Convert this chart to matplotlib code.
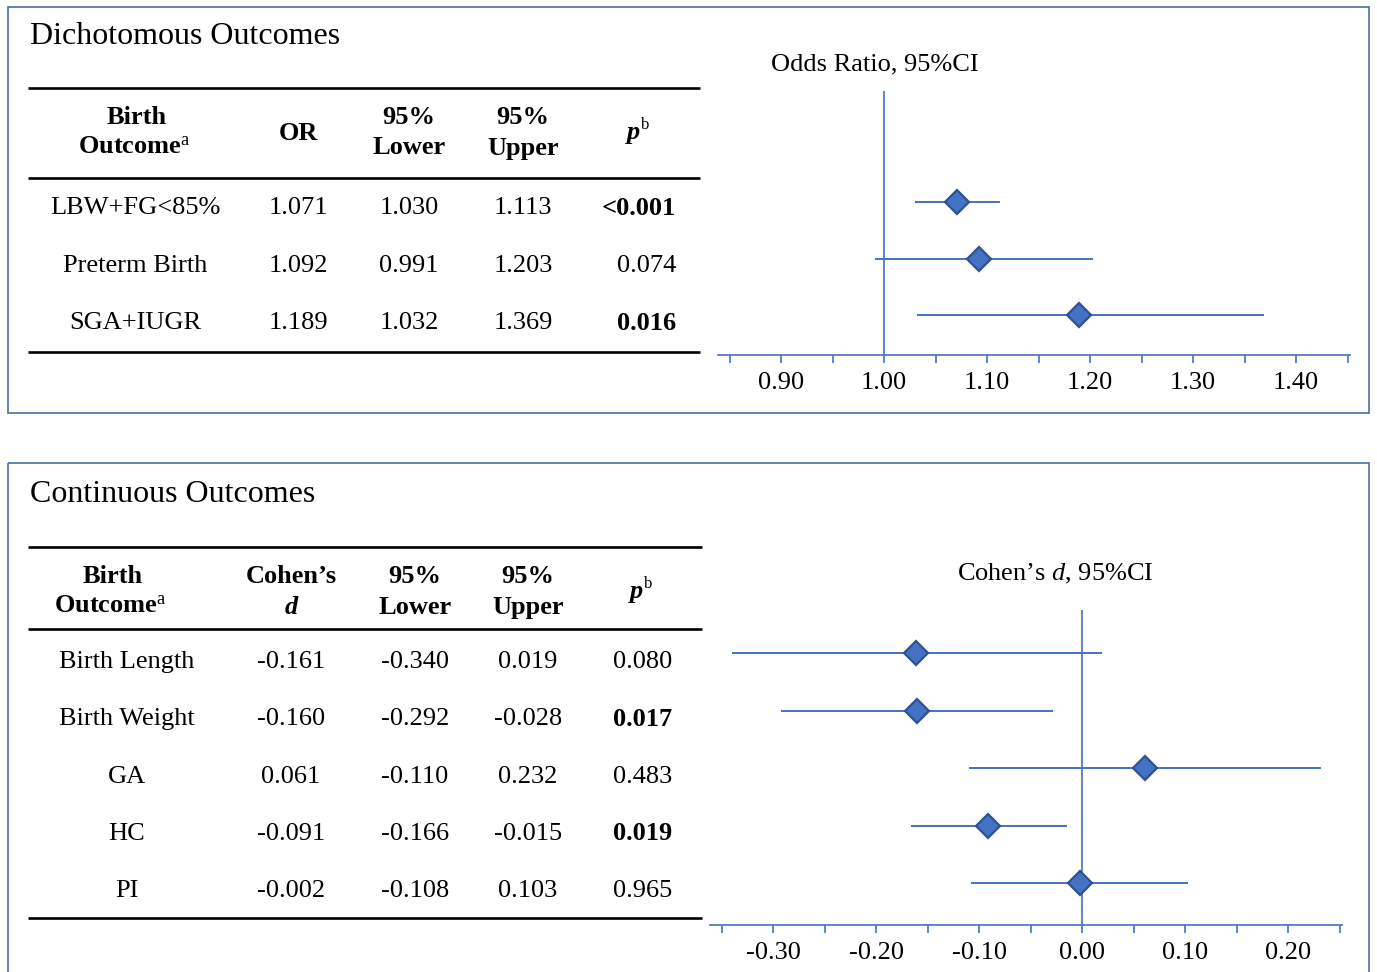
import matplotlib
matplotlib.use("Agg")
import matplotlib.pyplot as plt
from matplotlib.patches import Rectangle
from matplotlib.ticker import MultipleLocator

plt.rcParams['font.family'] = ['Liberation Serif', 'DejaVu Serif']
plt.rcParams['mathtext.fontset'] = 'custom'
plt.rcParams['mathtext.rm'] = 'Liberation Serif'
plt.rcParams['mathtext.it'] = 'Liberation Serif:italic'
plt.rcParams['mathtext.bf'] = 'Liberation Serif:bold'

# ---- data ----
dich_outcomes = ["LBW+FG<85%", "Preterm Birth", "SGA+IUGR"]
dich_or = [1.071, 1.092, 1.189]
dich_lo = [1.030, 0.991, 1.032]
dich_hi = [1.113, 1.203, 1.369]
dich_p = ["<0.001", "0.074", "0.016"]
dich_sig = [True, False, True]

cont_outcomes = ["Birth Length", "Birth Weight", "GA", "HC", "PI"]
cont_d = [-0.161, -0.160, 0.061, -0.091, -0.002]
cont_lo = [-0.340, -0.292, -0.110, -0.166, -0.108]
cont_hi = [0.019, -0.028, 0.232, -0.015, 0.103]
cont_p = ["0.080", "0.017", "0.483", "0.019", "0.965"]
cont_sig = [False, True, False, True, False]

or_ticks = [0.90, 1.00, 1.10, 1.20, 1.30, 1.40]
d_ticks = [-0.30, -0.20, -0.10, 0.00, 0.10, 0.20]

W, H = 1377, 972
BLUE = '#4472C4'
EDGE = '#2F528F'
FRAME = '#4A6DA8'
FS = 19

fig = plt.figure(figsize=(W / 100, H / 100), dpi=100)
bg = fig.add_axes([0, 0, 1, 1])
bg.set_xlim(0, W)
bg.set_ylim(H, 0)
bg.axis('off')

# panel frames
bg.add_patch(Rectangle((8, 7), 1361, 406, fill=False, ec=FRAME, lw=1.2))
bg.add_patch(Rectangle((8, 463), 1361, 530, fill=False, ec=FRAME, lw=1.2, clip_on=False))

bg.text(30, 37, "Dichotomous Outcomes", fontsize=23, va='center', ha='left')
bg.text(30, 494, "Continuous Outcomes", fontsize=23, va='center', ha='left')


def draw_table(y_rules, x0, x1, heads, cols, p_right, rows_y0, step, names, vals, pvals, sig):
    for y in y_rules:
        bg.plot([x0, x1], [y, y], color='black', lw=1.9, solid_capstyle='butt')
    hy1, hy2 = heads['y']
    bx = heads['x'][0]
    bg.text(bx, hy1, "Birth", fontsize=FS, fontweight='bold', ha='center', va='center')
    bg.text(bx - 3, hy2, r"$\mathbf{Outcome}^{\mathrm{a}}$", fontsize=FS, ha='center', va='center')
    mid = (hy1 + hy2) / 2
    if heads['second'] == 'OR':
        bg.text(heads['x'][1], mid, "OR", fontsize=FS, fontweight='bold', ha='center', va='center')
    else:
        bg.text(heads['x'][1], hy1, "Cohen\u2019s", fontsize=FS, fontweight='bold', ha='center', va='center')
        bg.text(heads['x'][1], hy2, "d", fontsize=FS, fontweight='bold', style='italic', ha='center', va='center')
    for xh, lab in zip(heads['x'][2:4], ["Lower", "Upper"]):
        bg.text(xh, hy1, "95%", fontsize=FS, fontweight='bold', ha='center', va='center')
        bg.text(xh, hy2, lab, fontsize=FS, fontweight='bold', ha='center', va='center')
    bg.text(heads['x'][4], mid, "p", fontsize=FS, fontweight='bold', style='italic', ha='right', va='center')
    bg.text(heads['x'][4] + 1, mid - 8, "b", fontsize=12, ha='left', va='center')

    for i, name in enumerate(names):
        y = rows_y0 + i * step
        bg.text(cols[0], y, name, fontsize=FS, ha='center', va='center')
        for c, arr in zip(cols[1:], vals):
            bg.text(c, y, f"{arr[i]:.3f}", fontsize=FS, ha='center', va='center')
        bg.text(p_right, y, pvals[i], fontsize=FS, ha='right', va='center',
                fontweight='bold' if sig[i] else 'normal')


draw_table([88, 178, 352], 28, 700,
           {'x': [137, 298, 409, 523, 640], 'y': (118, 148), 'second': 'OR'},
           [135, 298, 409, 523], 676, 208, 57.5,
           dich_outcomes, [dich_or, dich_lo, dich_hi], dich_p, dich_sig)

draw_table([547, 629, 918], 28, 702,
           {'x': [113, 291, 415, 528, 643], 'y': (576, 607), 'second': 'd'},
           [127, 291, 415, 528], 672, 662, 57.3,
           cont_outcomes, [cont_d, cont_lo, cont_hi], cont_p, cont_sig)

bg.text(875, 64, "Odds Ratio, 95%CI", fontsize=FS, ha='center', va='center')
bg.text(1055, 574, "Cohen\u2019s $\\mathit{d}$, 95%CI", fontsize=FS, ha='center', va='center')


def forest(px_left, px_right, px_top, px_bottom, xlim, ylim, est, lo, hi, ticks, ref):
    ax = fig.add_axes([px_left / W, 1 - px_bottom / H,
                       (px_right - px_left) / W, (px_bottom - px_top) / H])
    ax.patch.set_alpha(0)
    rows = list(range(len(est)))
    ax.axvline(ref, color=BLUE, lw=1.2, zorder=1)
    ax.hlines(rows, lo, hi, color=BLUE, lw=1.4, zorder=2)
    ax.plot(est, rows, 'D', ms=12, mfc=BLUE, mec=EDGE, mew=1.6, zorder=3, ls='none')
    ax.set_xlim(*xlim)
    ax.set_ylim(*ylim)
    for s in ['top', 'left', 'right']:
        ax.spines[s].set_visible(False)
    ax.spines['bottom'].set_color(BLUE)
    ax.spines['bottom'].set_linewidth(1.2)
    ax.set_yticks([])
    ax.set_xticks(ticks)
    ax.set_xticklabels([f"{t:.2f}" for t in ticks], fontsize=19)
    ax.xaxis.set_minor_locator(MultipleLocator(0.05))
    ax.tick_params(axis='x', which='both', direction='out', length=6, width=1.2,
                   color=BLUE, pad=6.5)
    for lab in ax.get_xticklabels():
        lab.set_x(lab.get_position()[0])
    return ax


forest(718, 1350, 91, 355, (0.8388, 1.4524), (2.708, -1.965),
       dich_or, dich_lo, dich_hi, or_ticks, 1.0)
forest(710, 1342, 610, 925, (-0.3612, 0.2524), (4.73, -0.748),
       cont_d, cont_lo, cont_hi, d_ticks, 0.0)

fig.savefig("out.png", dpi=100)
